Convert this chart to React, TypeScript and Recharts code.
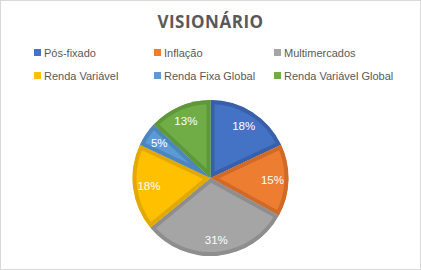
import React from "react";
import { PieChart, Pie, Cell, Legend, Sector } from "recharts";

const categories = [
  "Pós-fixado",
  "Inflação",
  "Multimercados",
  "Renda Variável",
  "Renda Fixa Global",
  "Renda Variável Global",
];
const values = [18, 15, 31, 18, 5, 13];

const FILLS = ["#4472C4", "#ED7D31", "#A5A5A5", "#FFC000", "#5B9BD5", "#70AD47"];
const BORDERS = ["#3860AA", "#D06A26", "#8E8E8E", "#E2A900", "#4C86BC", "#5F983B"];

const data = categories.map((name, i) => ({ name, value: values[i] }));

const RADIAN = Math.PI / 180;

const renderShape = (props: any) => {
  const { cx, cy, innerRadius, outerRadius, startAngle, endAngle } = props;
  const name = props.payload?.name ?? props.name;
  const idx = categories.indexOf(name);
  const id = `clip-slice-${idx}`;
  const geo = { cx, cy, innerRadius, outerRadius, startAngle, endAngle };
  return (
    <g>
      <defs>
        <clipPath id={id}>
          <Sector {...geo} />
        </clipPath>
      </defs>
      <Sector
        {...geo}
        fill={FILLS[idx]}
        stroke={BORDERS[idx]}
        strokeWidth={8}
        clipPath={`url(#${id})`}
      />
    </g>
  );
};

const renderLabel = (props: any) => {
  const { cx, cy, midAngle, value } = props;
  const r = 62;
  const x = cx + r * Math.cos(-midAngle * RADIAN);
  const y = cy + r * Math.sin(-midAngle * RADIAN);
  return (
    <text
      x={x}
      y={y}
      fill="#ffffff"
      fontSize={11.5}
      fontFamily="'Liberation Sans', Arial, sans-serif"
      textAnchor="middle"
      dominantBaseline="central"
    >
      {`${value}%`}
    </text>
  );
};

const renderLegend = () => (
  <div
    style={{
      display: "grid",
      gridTemplateColumns: "120px 120px 120px",
      rowGap: 8,
      paddingLeft: 34,
      fontFamily: "'Liberation Sans', Arial, sans-serif",
      fontSize: 11,
      color: "#595959",
    }}
  >
    {categories.map((c, i) => (
      <div key={c} style={{ display: "flex", alignItems: "center", height: 15, whiteSpace: "nowrap" }}>
        <span
          style={{
            display: "inline-block",
            width: 7,
            height: 7,
            background: FILLS[i],
            marginRight: 3,
          }}
        />
        <span>{c}</span>
      </div>
    ))}
  </div>
);

export default function App() {
  return (
    <div
      style={{
        position: "absolute",
        left: 0,
        top: 0,
        width: 421,
        height: 270,
        background: "#fff",
        border: "1px solid #D9D9D9",
        boxSizing: "border-box",
        overflow: "hidden",
      }}
    >
      <div
        style={{
          position: "absolute",
          left: 0,
          top: 8,
          width: 419,
          textAlign: "center",
          fontFamily: "'Open Sans', 'Noto Sans', sans-serif",
          fontWeight: 700,
          fontSize: 17,
          color: "#595959",
          letterSpacing: 0.5,
          lineHeight: "26px",
        }}
      >
        VISIONÁRIO
      </div>
      <div style={{ position: "absolute", left: -1, top: -1 }}>
        <PieChart width={421} height={270} margin={{ top: 0, right: 0, bottom: 0, left: 0 }}>
          <Legend
            content={renderLegend}
            layout="horizontal"
            verticalAlign="middle"
            align="center"
            wrapperStyle={{ position: "absolute", top: 45, left: 0, width: 421 }}
          />
          <Pie
            data={data}
            dataKey="value"
            nameKey="name"
            cx={210.5}
            cy={178}
            outerRadius={78}
            startAngle={90}
            endAngle={-270}
            stroke="none"
            shape={renderShape}
            label={renderLabel}
            labelLine={false}
            isAnimationActive={false}
          >
            {data.map((d, i) => (
              <Cell key={d.name} fill={FILLS[i]} />
            ))}
          </Pie>
        </PieChart>
      </div>
    </div>
  );
}
